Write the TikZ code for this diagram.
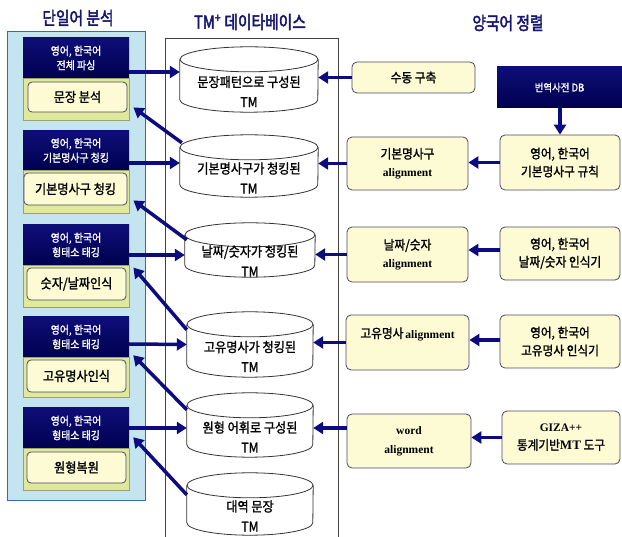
\documentclass[tikz,border=0pt]{standalone}
\usepackage{fontspec}
\setmainfont{Liberation Serif}
\newfontfamily\kr[FakeStretch=0.9,FakeBold=1.4]{Noto Sans CJK KR}
\newfontfamily\krt[FakeStretch=0.82,FakeBold=2.4]{Noto Sans CJK KR}
\newfontfamily\ser{Liberation Serif}
\newcommand\algf{\ser\bfseries\fontsize{11.5}{18}\selectfont}
\usetikzlibrary{arrows.meta}
\definecolor{navy}{RGB}{12,12,128}
\definecolor{navytop}{RGB}{14,14,120}
\definecolor{navybot}{RGB}{0,0,80}
\definecolor{titleblue}{RGB}{22,22,110}
\definecolor{panelblue}{RGB}{196,229,240}
\definecolor{paneledge}{RGB}{46,109,180}
\definecolor{ygreen}{RGB}{224,232,156}
\definecolor{boxfill}{RGB}{253,251,212}
\definecolor{boxline}{RGB}{72,72,110}
\newcommand\drawcyl[3]{%
  \fill[white] ([yshift=-#3pt]#1.north west) -- ([yshift=#3pt]#1.south west)
     arc[start angle=180,end angle=360,x radius=#2,y radius=#3]
     -- ([yshift=-#3pt]#1.north east)
     arc[start angle=0,end angle=180,x radius=#2,y radius=#3] -- cycle;
  \draw[cylline] ([yshift=-#3pt]#1.north west) -- ([yshift=#3pt]#1.south west)
     arc[start angle=180,end angle=360,x radius=#2,y radius=#3]
     -- ([yshift=-#3pt]#1.north east);
  \draw[cylline] ([yshift=-#3pt]#1.north) ellipse[x radius=#2,y radius=#3];
}
\tikzset{
  hdr/.style={top color=navytop, bottom color=navybot, text=white, align=center,
     font=\kr\fontsize{11}{14.5}\selectfont, minimum width=106pt, inner sep=0pt},
  low/.style={fill=ygreen, draw=ygreen!70!black, line width=0.4pt, minimum width=106pt, inner sep=0pt},
  ibox/.style={draw=boxline, fill=boxfill, rounded corners=4pt, line width=0.8pt,
     font=\kr\fontsize{13.5}{15}\selectfont, inner sep=0pt},
  rbox/.style={draw=boxline, fill=boxfill, rounded corners=5pt, line width=0.8pt, align=center,
     font=\kr\fontsize{13}{18}\selectfont, inner sep=0pt},
  dbbox/.style={top color=navytop, bottom color=navybot, text=white,
     font=\kr\fontsize{10.5}{12}\selectfont, inner sep=0pt},
  cylbox/.style={inner sep=0pt},
  cyltext/.style={align=center, font=\kr\fontsize{13.5}{20}\selectfont, yshift=-12pt},
  cylline/.style={draw=black!80, line width=0.8pt},
  ttl/.style={text=titleblue, font=\krt\fontsize{18}{20}\selectfont},
  arr/.style={draw=navy, line width=3.5pt, -{Triangle[length=10pt,width=12pt]}}
}
\begin{document}
\begin{tikzpicture}[x=1pt,y=1pt]
\useasboundingbox (0,0) rectangle (622,-537);
% titles
\node[ttl] (t1) at (78,-18) {단일어 분석};
\node[ttl] (t2) at (250,-22) {TM\textsuperscript{+} 데이타베이스};
\node[ttl] (t3) at (508,-23) {양국어 정렬};
% left panel
\fill[panelblue] (7,-32) rectangle (145,-501);
\draw[paneledge, line width=1pt] (7,-32) rectangle (145,-501);
% middle panel
\draw[black!75, line width=0.8pt] (165,-537) -- (165,-38) -- (338,-38) -- (338,-537);
% left groups
\node[hdr, minimum height=40pt] (h1) at (76,-58) {영어, 한국어\\전체 파싱};
\node[low, minimum height=42pt] (l1) at (76,-99) {};
\node[ibox, minimum width=99pt, minimum height=30pt] (b1) at (77.5,-97) {문장 분석};
\node[hdr, minimum height=39pt] (h2) at (76,-150.5) {영어, 한국어\\기본명사구 청킹};
\node[low, minimum height=43pt] (l2) at (76,-191.5) {};
\node[ibox, minimum width=103pt, minimum height=32pt] (b2) at (75.5,-189) {기본명사구 청킹};
\node[hdr, minimum height=40pt] (h3) at (76,-245) {영어, 한국어\\형태소 태깅};
\node[low, minimum height=42pt] (l3) at (76,-286) {};
\node[ibox, minimum width=99pt, minimum height=32pt] (b3) at (76.5,-284) {숫자/날짜인식};
\node[hdr, minimum height=40pt] (h4) at (76,-337) {영어, 한국어\\형태소 태깅};
\node[low, minimum height=40pt] (l4) at (76,-377) {};
\node[ibox, minimum width=99pt, minimum height=32pt] (b4) at (76.5,-376) {고유명사인식};
\node[hdr, minimum height=40pt] (h5) at (76,-428) {영어, 한국어\\형태소 태깅};
\node[low, minimum height=42pt] (l5) at (76,-469) {};
\node[ibox, minimum width=99pt, minimum height=31pt] (b5) at (76.5,-467.5) {원형복원};
% cylinders
\node[cylbox, minimum width=138pt, minimum height=65pt] (c1) at (249,-79.5) {};
\drawcyl{c1}{69}{12.5}
\node[cyltext] (c1t) at (c1) {문장패턴으로 구성된\\TM};
\node[cylbox, minimum width=138pt, minimum height=62pt] (c2) at (249,-166) {};
\drawcyl{c2}{69}{12.5}
\node[cyltext] (c2t) at (c2) {기본명사구가 청킹된\\TM};
\node[cylbox, minimum width=130pt, minimum height=54pt] (c3) at (250,-250) {};
\drawcyl{c3}{65}{12}
\node[cyltext, yshift=1pt] (c3t) at (c3) {날짜/숫자가 청킹된\\TM};
\node[cylbox, minimum width=126pt, minimum height=65pt] (c4) at (250,-344.5) {};
\drawcyl{c4}{63}{12.5}
\node[cyltext] (c4t) at (c4) {고유명사가 청킹된\\TM};
\node[cylbox, minimum width=126pt, minimum height=64pt] (c5) at (250,-425) {};
\drawcyl{c5}{63}{12.5}
\node[cyltext] (c5t) at (c5) {원형 어휘로 구성된\\TM};
\node[cylbox, minimum width=126pt, minimum height=62pt] (c6) at (250,-504) {};
\drawcyl{c6}{63}{12.5}
\node[cyltext] (c6t) at (c6) {대역 문장\\TM};
% right boxes
\node[rbox, minimum width=123pt, minimum height=31pt] (r1) at (413.5,-77.5) {수동 구축};
\node[dbbox, minimum width=125pt, minimum height=41pt] (db) at (559.5,-87.5) {번역사전 DB};
\node[rbox, minimum width=121pt, minimum height=53pt] (a2) at (407.5,-163.5) {기본명사구\\{\algf alignment}};
\node[rbox, minimum width=120pt, minimum height=55pt] (s2) at (560,-162.5) {영어, 한국어\\기본명사구 규칙};
\node[rbox, minimum width=121pt, minimum height=55pt] (a3) at (407.5,-254.5) {날짜/숫자\\{\algf alignment}};
\node[rbox, minimum width=120pt, minimum height=53pt] (s3) at (560,-253.5) {영어, 한국어\\날짜/숫자 인식기};
\node[rbox, minimum width=123pt, minimum height=55pt] (a4) at (407.5,-342.5) {};
\node[font=\kr\fontsize{13}{15}\selectfont, inner sep=0pt] (a4t) at (407.5,-334) {고유명사{\algf\,alignment}};
\node[rbox, minimum width=120pt, minimum height=53pt] (s4) at (560,-341.5) {영어, 한국어\\고유명사 인식기};
\node[rbox, minimum width=124pt, minimum height=54pt, font=\ser\bfseries\fontsize{11.5}{19}\selectfont] (a5) at (409,-441) {word\\alignment};
\node[rbox, minimum width=118pt, minimum height=53pt] (s5) at (561,-437.5) {{\ser\bfseries\fontsize{11.5}{13}\selectfont GIZA++}\\통계기반{\ser\bfseries MT} 도구};
% arrows left -> cylinders
\draw[arr] ([yshift=-14pt]h1.east) -- ([yshift=7.5pt]c1.west);
\draw[arr] ([yshift=-12.5pt]h2.east) -- ([yshift=3pt]c2.west);
\draw[arr] ([yshift=-10pt]h3.east) -- ([yshift=-5pt]c3.west);
\draw[arr] ([yshift=-7pt]h4.east) -- (c4.west);
\draw[arr] (h5.east) -- ([yshift=-3pt]c5.west);
% diagonal arrows cylinders -> left boxes
\draw[arr] ([xshift=2pt,yshift=-8pt]c2.north west) -- ([xshift=6pt,yshift=5pt]b1.south east);
\draw[arr] ([xshift=2pt,yshift=-17pt]c3.north west) -- ([xshift=6pt,yshift=5pt]b2.south east);
\draw[arr] ([yshift=-18pt]c4.north west) -- ([xshift=7pt]b3.north east);
\draw[arr] ([yshift=-17pt]c5.north west) -- ([xshift=4pt,yshift=2pt]h4.south east);
\draw[arr] ([yshift=-22pt]c6.north west) -- ([xshift=4pt,yshift=11pt]h5.south east);
% right -> cylinders
\draw[arr] (r1.west) -- ([yshift=2pt]c1.east);
\draw[arr] (a2.west) -- ([yshift=2.5pt]c2.east);
\draw[arr] (a3.west) -- ([yshift=-4.5pt]c3.east);
\draw[arr] (a4.west) -- ([yshift=2pt]c4.east);
\draw[arr] ([yshift=13pt]a5.west) -- ([yshift=-3pt]c5.east);
% sources -> alignment
\draw[arr] (db.south -| s2.north) -- (s2.north);
\draw[arr] (s2.west) -- ([yshift=1pt]a2.east);
\draw[arr] ([yshift=3.5pt]s3.west) -- ([yshift=4.5pt]a3.east);
\draw[arr] ([yshift=1.5pt]s4.west) -- ([yshift=2.5pt]a4.east);
\draw[arr] (s5.west) -- ([yshift=3.5pt]a5.east);
\end{tikzpicture}
\end{document}
